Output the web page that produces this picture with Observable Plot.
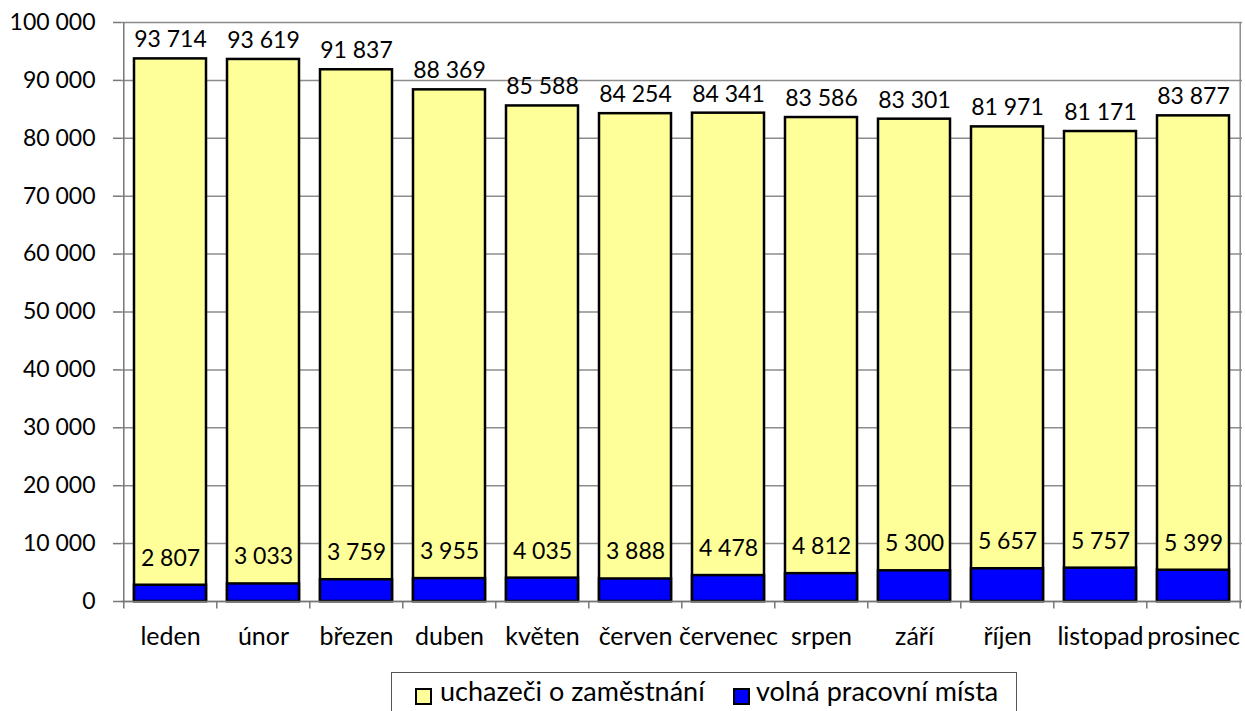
<!DOCTYPE html>
<html><head><meta charset="utf-8">
<script src="https://cdn.jsdelivr.net/npm/d3@7"></script>
<script src="https://cdn.jsdelivr.net/npm/@observablehq/plot@0.6"></script>
<style>
body{margin:0;background:#fff;font-family:Lato,"Open Sans",sans-serif;position:relative;width:1245px;height:711px;overflow:hidden}
#chart{position:absolute;left:0;top:0}
#legend{position:absolute;left:391px;top:672px;width:626px;height:60px;border:1.5px solid #555;box-sizing:border-box;font-size:27px;color:#000}
.sw{position:absolute;top:15px;width:17px;height:17px;border:2.5px solid #000;box-sizing:border-box}
.tx{position:absolute;top:3px;line-height:30px;white-space:nowrap}
</style></head>
<body>
<div id="chart"></div>
<div id="legend"></div>
<script>
const months = ["leden","únor","březen","duben","květen","červen","červenec","srpen","září","říjen","listopad","prosinec"];
const uchazeci = [93714,93619,91837,88369,85588,84254,84341,83586,83301,81971,81171,83877];
const volnaMista = [2807,3033,3759,3955,4035,3888,4478,4812,5300,5657,5757,5399];
const yTicks = [0,10000,20000,30000,40000,50000,60000,70000,80000,90000,100000];
const seriesNames = ["uchazeči o zaměstnání","volná pracovní místa"];
const seriesColors = ["#FFFF99","#0000FF"];

const fmt = d => d3.format(",")(d).replace(/,/g, " ");
const W = 1245, ML = 121, MR = 3;
const step = (W - ML - MR) / months.length;
const dataU = months.map((m,i)=>({m, v: uchazeci[i]}));
const dataV = months.map((m,i)=>({m, v: volnaMista[i]}));

const chart = Plot.plot({
  width: W, height: 665,
  marginLeft: ML, marginRight: MR, marginTop: 22, marginBottom: 64,
  style: {fontFamily: "Lato, 'Open Sans', sans-serif", fontSize: "23px", color: "#000", background: "#fff", overflow: "visible"},
  x: {domain: months, paddingInner: 0.23, paddingOuter: 0.115, label: null},
  y: {domain: [0, 100000], label: null},
  marks: [
    Plot.ruleY(yTicks, {stroke: "#8c8c8c", strokeWidth: 1.5}),
    Plot.ruleX([months[months.length-1]], {x: d=>d, dx: step/2, stroke: "#8c8c8c", strokeWidth: 1.5, y1: 0, y2: 100000}),
    Plot.barY(dataU, {x: "m", y: "v", fill: seriesColors[0], stroke: "#000", strokeWidth: 2.5}),
    Plot.barY(dataV, {x: "m", y: "v", fill: seriesColors[1], stroke: "#000", strokeWidth: 2.5}),
    Plot.text(dataU, {x: "m", y: "v", text: d=>fmt(d.v), dy: -19, fill: "#000", fontSize: 23}),
    Plot.text(dataV, {x: "m", y: "v", text: d=>fmt(d.v), dy: -27, fill: "#000", fontSize: 23}),
    Plot.ruleX([months[0]], {x: d=>d, dx: -step/2, stroke: "#777", strokeWidth: 1.5, y1: 0, y2: 100000}),
    Plot.ruleX(months, {x: d=>d, dx: -step/2, stroke: "#777", strokeWidth: 1.5, y1: 0, y2: -1300}),
    Plot.ruleX([months[months.length-1]], {x: d=>d, dx: step/2, stroke: "#777", strokeWidth: 1.5, y1: 0, y2: -1300}),
    Plot.ruleY([0], {stroke: "#777", strokeWidth: 1.5}),
    Plot.axisY({ticks: yTicks, tickFormat: fmt, tickSize: 8, tickPadding: 18, stroke: "#777", strokeWidth: 1.5, fontSize: 23}),
    Plot.axisX({tickSize: 0, tickPadding: 26, fontSize: 25})
  ]
});
document.getElementById("chart").appendChild(chart);

const legend = document.getElementById("legend");
const swX = [23, 341], txX = [48, 364];
seriesNames.forEach((n, i) => {
  const s = document.createElement("span"); s.className = "sw"; s.style.left = swX[i] + "px"; s.style.background = seriesColors[i]; legend.appendChild(s);
  const t = document.createElement("span"); t.className = "tx"; t.style.left = txX[i] + "px"; t.textContent = n; legend.appendChild(t);
});
</script>
</body></html>
